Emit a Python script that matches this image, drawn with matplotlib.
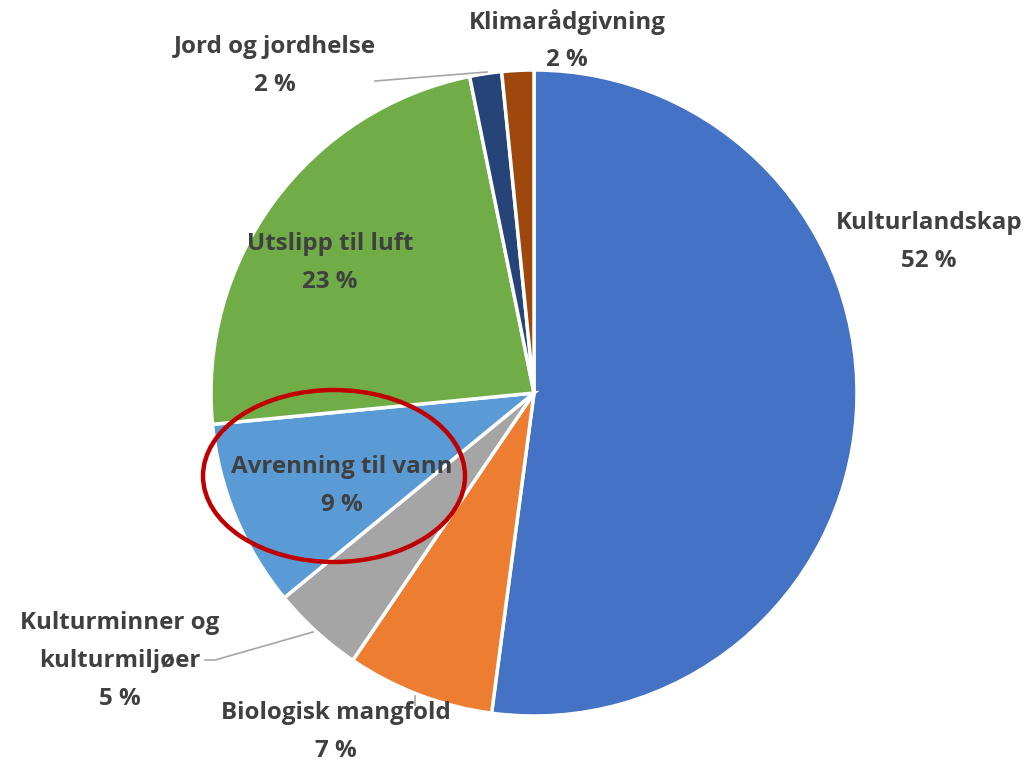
import matplotlib
matplotlib.use("Agg")
import matplotlib.pyplot as plt
from matplotlib.patches import Ellipse
from matplotlib import font_manager

categories = ["Kulturlandskap", "Biologisk mangfold", "Kulturminner og\nkulturmiljøer",
              "Avrenning til vann", "Utslipp til luft", "Jord og jordhelse", "Klimarådgivning"]
values = [52.2, 7.4, 4.6, 9.4, 23.4, 1.6, 1.6]
colors = ["#4472C4", "#ED7D31", "#A5A5A5", "#5B9BD5", "#70AD47", "#264478", "#9E480E"]

W, H = 1032, 765
fig = plt.figure(figsize=(W / 100, H / 100), dpi=100)
ax = fig.add_axes([0, 0, 1, 1])

def py(y):
    return H - y

cx, cy, R = 534, py(393), 323
ax.pie(values, colors=colors, startangle=90, counterclock=False,
       center=(cx, cy), radius=R, frame=True,
       wedgeprops=dict(edgecolor="white", linewidth=2.5))
ax.set_xlim(0, W)
ax.set_ylim(0, H)
ax.set_aspect("equal")
ax.axis("off")

# choose a bold family and fit size so "Kulturlandskap" is ~187 px wide
family = "Open Sans"
renderer = fig.canvas.get_renderer()
t = ax.text(0, 0, "Kulturlandskap", family=family, weight="bold", fontsize=10)
w10 = t.get_window_extent(renderer).width
t.remove()
fs = 10 * 187 / w10

label_pos = [(929, 223), (336, 713), (120, 623), (342, 467), (330, 244), (275, 47), (567, 22)]
txtcol = "#404040"
font = dict(family=family, weight="bold", fontsize=fs, color=txtcol)
lh = 38
total = sum(values)
for cat, v, (x, y) in zip(categories, values, label_pos):
    lines = cat.split("\n") + [f"{v / total * 100:.0f} %"]
    for i, s in enumerate(lines):
        ax.text(x, py(y + i * lh), s, ha="center", va="center", **font)

# leader lines
lc = "#A6A6A6"
ax.plot([375, 487], [py(81), py(72)], color=lc, lw=1.2)
ax.plot([205, 215, 313], [py(660), py(660), py(632)], color=lc, lw=1.2)
ax.plot([415, 415], [py(696), py(705)], color=lc, lw=1.2)

# highlight ellipse
ax.add_patch(Ellipse((334, py(476)), 262, 172, fill=False, edgecolor="#C00000", lw=3.2))

fig.savefig("out.png", dpi=100)
